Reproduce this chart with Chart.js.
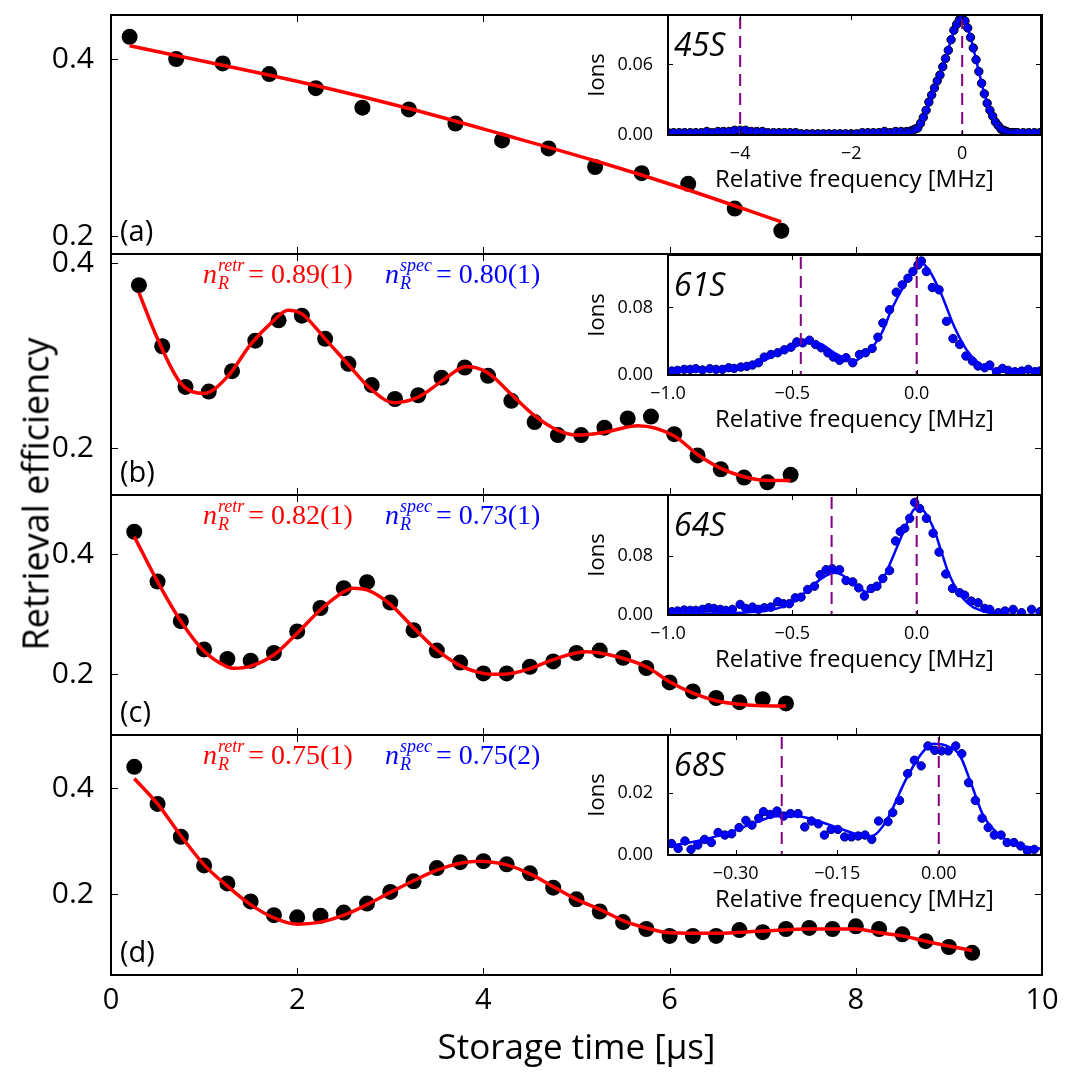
<!DOCTYPE html>
<html>
<head>
<meta charset="utf-8">
<script src="https://cdn.jsdelivr.net/npm/chart.js@4.4.1/dist/chart.umd.min.js"></script>
<style>
  body { margin: 0; background: #fff; }
  #fig { position: relative; width: 1075px; height: 1080px; overflow: hidden; background: #fff; }
  #fig canvas { position: absolute; }
  #ylab {
    position: absolute; left: 35px; top: 494px;
    transform: translate(-50%, -50%) rotate(-90deg);
    font: 36px "Open Sans", sans-serif; white-space: nowrap; color: #000;
  }
</style>
</head>
<body>
<div id="fig">
  <canvas id="mainA"></canvas>
  <canvas id="mainB"></canvas>
  <canvas id="mainC"></canvas>
  <canvas id="mainD"></canvas>
  <canvas id="insetA"></canvas>
  <canvas id="insetB"></canvas>
  <canvas id="insetC"></canvas>
  <canvas id="insetD"></canvas>
  <div id="ylab">Retrieval efficiency</div>
</div>
<script>
// ---- tick labels ----
const timeTicks = [0, 2, 4, 6, 8, 10];
const effTicks = [0.2, 0.4];
const freqTicksA = [-4, -2, 0];
const freqTicksBC = [-1.0, -0.5, 0.0];
const freqTicksD = [-0.30, -0.15, 0.00];
const ionTicksA = [0, 0.06];
const ionTicksBC = [0, 0.08];
const ionTicksD = [0, 0.02];

// ---- storage time data (us) and retrieval efficiency ----
const timeA = [0.2, 0.7, 1.2, 1.7, 2.2, 2.7, 3.2, 3.7, 4.2, 4.7, 5.2, 5.7, 6.2, 6.7, 7.2];
const effA = [0.425, 0.400, 0.395, 0.383, 0.367, 0.345, 0.343, 0.327, 0.308, 0.299, 0.278, 0.271, 0.259, 0.231, 0.206];
const fitTimeA = [0.2, 1.2, 2.2, 3.2, 4.2, 5.2, 6.2, 7.2];
const fitEffA = [0.415, 0.393, 0.370, 0.344, 0.315, 0.285, 0.252, 0.216];

const timeB = [0.3, 0.55, 0.8, 1.05, 1.3, 1.55, 1.8, 2.05, 2.3, 2.55, 2.8, 3.05, 3.3, 3.55, 3.8, 4.05, 4.3, 4.55, 4.8, 5.05, 5.3, 5.55, 5.8, 6.05, 6.3, 6.55, 6.8, 7.05, 7.3];
const effB = [0.376, 0.310, 0.266, 0.261, 0.283, 0.316, 0.338, 0.343, 0.318, 0.291, 0.268, 0.253, 0.257, 0.276, 0.287, 0.278, 0.251, 0.228, 0.214, 0.214, 0.222, 0.232, 0.234, 0.215, 0.192, 0.177, 0.168, 0.163, 0.171];
const fitTimeB = [0.3, 0.5, 0.75, 1.0, 1.25, 1.5, 1.75, 1.9, 2.05, 2.3, 2.55, 2.8, 3.04, 3.3, 3.55, 3.82, 4.05, 4.3, 4.55, 4.8, 5.0, 5.3, 5.66, 6.05, 6.3, 6.55, 6.8, 7.05, 7.3];
const fitEffB = [0.368, 0.318, 0.270, 0.259, 0.277, 0.312, 0.338, 0.349, 0.345, 0.318, 0.290, 0.263, 0.249, 0.255, 0.272, 0.288, 0.281, 0.258, 0.235, 0.219, 0.214, 0.217, 0.224, 0.213, 0.193, 0.178, 0.169, 0.165, 0.165];

const timeC = [0.25, 0.5, 0.75, 1.0, 1.25, 1.5, 1.75, 2.0, 2.25, 2.5, 2.75, 3.0, 3.25, 3.5, 3.75, 4.0, 4.25, 4.5, 4.75, 5.0, 5.25, 5.5, 5.75, 6.0, 6.25, 6.5, 6.75, 7.0, 7.25];
const effC = [0.437, 0.354, 0.288, 0.241, 0.225, 0.222, 0.235, 0.271, 0.310, 0.343, 0.353, 0.319, 0.273, 0.239, 0.219, 0.201, 0.201, 0.212, 0.221, 0.235, 0.239, 0.227, 0.210, 0.186, 0.171, 0.160, 0.153, 0.158, 0.151];
const fitTimeC = [0.25, 0.5, 0.75, 1.0, 1.25, 1.32, 1.5, 1.75, 2.0, 2.25, 2.5, 2.6, 2.75, 3.0, 3.25, 3.5, 3.75, 4.0, 4.11, 4.25, 4.5, 4.75, 5.1, 5.35, 5.75, 6.0, 6.25, 6.5, 6.75, 7.0, 7.25];
const fitEffC = [0.429, 0.354, 0.288, 0.238, 0.212, 0.2095, 0.213, 0.232, 0.268, 0.307, 0.337, 0.343, 0.340, 0.316, 0.277, 0.240, 0.214, 0.201, 0.1995, 0.200, 0.209, 0.224, 0.237, 0.232, 0.212, 0.187, 0.168, 0.1555, 0.1495, 0.147, 0.1467];

const timeD = [0.25, 0.5, 0.75, 1.0, 1.25, 1.5, 1.75, 2.0, 2.25, 2.5, 2.75, 3.0, 3.25, 3.5, 3.75, 4.0, 4.25, 4.5, 4.75, 5.0, 5.25, 5.5, 5.75, 6.0, 6.25, 6.5, 6.75, 7.0, 7.25, 7.5, 7.75, 8.0, 8.25, 8.5, 8.75, 9.0, 9.25];
const effD = [0.440, 0.370, 0.308, 0.254, 0.220, 0.186, 0.160, 0.156, 0.159, 0.165, 0.182, 0.204, 0.224, 0.249, 0.260, 0.262, 0.256, 0.239, 0.212, 0.190, 0.167, 0.147, 0.134, 0.121, 0.121, 0.121, 0.132, 0.128, 0.134, 0.136, 0.134, 0.139, 0.134, 0.124, 0.111, 0.100, 0.089];
const fitTimeD = [0.25, 0.5, 0.75, 1.0, 1.25, 1.5, 1.75, 2.0, 2.25, 2.5, 2.75, 3.0, 3.25, 3.5, 3.75, 3.95, 4.25, 4.5, 4.75, 5.0, 5.25, 5.5, 5.75, 6.0, 6.5, 7.0, 7.5, 8.0, 8.25, 8.5, 8.75, 9.25];
const fitEffD = [0.418, 0.370, 0.310, 0.255, 0.215, 0.180, 0.155, 0.143, 0.147, 0.160, 0.180, 0.203, 0.225, 0.245, 0.258, 0.262, 0.255, 0.238, 0.214, 0.190, 0.171, 0.150, 0.136, 0.127, 0.126, 0.130, 0.134, 0.134, 0.127, 0.121, 0.111, 0.093];

// ---- spectra (MHz, ions) ----
const freqA = [-5.3, -5.2, -5.1, -5.0, -4.9, -4.8, -4.7, -4.6, -4.5, -4.4, -4.3, -4.2, -4.1, -4.0, -3.9, -3.8, -3.7, -3.6, -3.5, -3.4, -3.3, -3.2, -3.1, -3.0,
  -2.9, -2.8, -2.7, -2.6, -2.5, -2.4, -2.3, -2.2, -2.1, -2.0, -1.9, -1.8, -1.7, -1.6, -1.5, -1.4, -1.3, -1.2, -1.1,
  -1.0, -0.95, -0.9, -0.85, -0.8, -0.75, -0.7, -0.65, -0.6, -0.55, -0.5, -0.45, -0.4, -0.35, -0.3, -0.25, -0.2, -0.15, -0.1, -0.05,
  0, 0.05, 0.1, 0.15, 0.2, 0.25, 0.3, 0.35, 0.4, 0.45, 0.5, 0.55, 0.6, 0.65, 0.7, 0.75, 0.8, 0.85, 0.9, 0.95, 1.0,
  1.1, 1.2, 1.3, 1.4];
const ionsA = [0.002, 0.002, 0.002, 0.002, 0.002, 0.002, 0.002, 0.003, 0.002, 0.003, 0.003, 0.003, 0.004, 0.004, 0.004, 0.003, 0.003, 0.003, 0.002, 0.002, 0.002, 0.002, 0.002, 0.002,
  0.001, 0.001, 0.001, 0.001, 0.001, 0.001, 0.001, 0.001, 0.001, 0.001, 0.001, 0.002, 0.002, 0.002, 0.002, 0.003, 0.002, 0.003, 0.003,
  0.003, 0.003, 0.004, 0.005, 0.006, 0.010, 0.015, 0.021, 0.028, 0.034, 0.040, 0.046, 0.051, 0.058, 0.065, 0.072, 0.081, 0.089, 0.094, 0.098,
  0.099, 0.097, 0.091, 0.083, 0.074, 0.064, 0.054, 0.044, 0.035, 0.027, 0.021, 0.016, 0.011, 0.008, 0.005, 0.004, 0.003, 0.002, 0.002, 0.002, 0.002,
  0.002, 0.002, 0.002, 0.002];
const fitFreqA = [-5.3, -4, -2, -1, -0.9, -0.8, -0.7, -0.6, -0.5, -0.4, -0.3, -0.2, -0.1, 0, 0.1, 0.2, 0.3, 0.4, 0.5, 0.6, 0.7, 0.8, 1.0, 1.4];
const fitIonsA = [0.002, 0.003, 0.001, 0.002, 0.003, 0.005, 0.013, 0.026, 0.039, 0.051, 0.065, 0.081, 0.094, 0.099, 0.091, 0.074, 0.054, 0.035, 0.021, 0.011, 0.005, 0.003, 0.002, 0.002];

const freqB = [-0.985, -0.962, -0.935, -0.911, -0.888, -0.861, -0.832, -0.807, -0.781, -0.756, -0.734, -0.707, -0.683, -0.660, -0.636, -0.613, -0.586, -0.559, -0.532, -0.505,
  -0.482, -0.458, -0.431, -0.407, -0.384, -0.357, -0.335, -0.310, -0.284, -0.257, -0.230, -0.206, -0.179, -0.156, -0.136, -0.109, -0.082, -0.058, -0.035, -0.015,
  0.005, 0.019, 0.039, 0.063, 0.090, 0.120, 0.146, 0.173, 0.198, 0.224, 0.247, 0.274, 0.294, 0.321, 0.345, 0.368, 0.395, 0.422, 0.449, 0.476, 0.496];
const ionsB = [0.0047, 0.0055, 0.0067, 0.0067, 0.0075, 0.0059, 0.0075, 0.0067, 0.0067, 0.0086, 0.0078, 0.0094, 0.0102, 0.0118, 0.0145, 0.0212, 0.0243, 0.0263, 0.0298, 0.0329,
  0.0392, 0.0380, 0.0412, 0.0361, 0.0322, 0.0263, 0.0212, 0.0173, 0.0204, 0.0145, 0.0243, 0.0263, 0.0314, 0.0447, 0.0616, 0.0773, 0.0980, 0.1067, 0.1145, 0.1224,
  0.1302, 0.1349, 0.1224, 0.1035, 0.1008, 0.0635, 0.0431, 0.0361, 0.0224, 0.0165, 0.0106, 0.0086, 0.0118, 0.0039, 0.0078, 0.0055, 0.0039, 0.0047, 0.0067, 0.0039, 0.0047];
const fitFreqB = [-1.0, -0.8, -0.7, -0.65, -0.6, -0.55, -0.5, -0.45, -0.42, -0.38, -0.33, -0.28, -0.25, -0.22, -0.18, -0.14, -0.1, -0.05, 0, 0.02, 0.05, 0.1, 0.15, 0.2, 0.25, 0.3, 0.4, 0.5];
const fitIonsB = [0.004, 0.006, 0.009, 0.013, 0.019, 0.026, 0.032, 0.038, 0.040, 0.036, 0.026, 0.019, 0.017, 0.022, 0.032, 0.050, 0.078, 0.106, 0.128, 0.132, 0.124, 0.095, 0.058, 0.030, 0.014, 0.007, 0.004, 0.004];

const freqC = [-0.985, -0.962, -0.935, -0.911, -0.888, -0.861, -0.837, -0.815, -0.790, -0.768, -0.741, -0.710, -0.687, -0.660, -0.636, -0.613, -0.586, -0.559, -0.536, -0.512,
  -0.488, -0.465, -0.438, -0.411, -0.388, -0.364, -0.340, -0.310, -0.284, -0.257, -0.233, -0.210, -0.183, -0.160, -0.136, -0.109, -0.085, -0.066, -0.048, -0.028,
  -0.008, 0.012, 0.039, 0.066, 0.090, 0.117, 0.144, 0.173, 0.193, 0.220, 0.247, 0.274, 0.294, 0.328, 0.355, 0.388, 0.422, 0.462, 0.496];
const ionsC = [0.0045, 0.0054, 0.0067, 0.0063, 0.0063, 0.0076, 0.0098, 0.0089, 0.0076, 0.0063, 0.0076, 0.0143, 0.0089, 0.0107, 0.0076, 0.0098, 0.0107, 0.0179, 0.0152, 0.0152,
  0.0232, 0.0241, 0.0344, 0.0389, 0.0545, 0.0612, 0.0626, 0.0612, 0.0465, 0.0447, 0.0366, 0.0255, 0.0358, 0.0389, 0.0492, 0.0599, 0.0999, 0.1126, 0.1171, 0.1305,
  0.1519, 0.1439, 0.1305, 0.1104, 0.0849, 0.0554, 0.0358, 0.0300, 0.0268, 0.0188, 0.0165, 0.0089, 0.0076, 0.0031, 0.0054, 0.0076, 0.0031, 0.0076, 0.0045];
const fitFreqC = [-1.0, -0.8, -0.7, -0.6, -0.55, -0.5, -0.45, -0.4, -0.36, -0.33, -0.3, -0.26, -0.22, -0.2, -0.17, -0.13, -0.1, -0.05, -0.02, 0.0, 0.03, 0.07, 0.1, 0.13, 0.17, 0.22, 0.28, 0.35, 0.5];
const fitIonsC = [0.002, 0.002, 0.003, 0.006, 0.010, 0.017, 0.030, 0.045, 0.054, 0.057, 0.054, 0.044, 0.034, 0.031, 0.035, 0.052, 0.075, 0.115, 0.138, 0.145, 0.140, 0.115, 0.085, 0.055, 0.030, 0.012, 0.004, 0.001, 0.0];

const freqD = [-0.395, -0.385, -0.375, -0.366, -0.356, -0.346, -0.336, -0.326, -0.316, -0.306, -0.295, -0.285, -0.276, -0.266, -0.259, -0.249, -0.239, -0.229, -0.219, -0.208,
  -0.198, -0.188, -0.178, -0.169, -0.159, -0.149, -0.139, -0.129, -0.119, -0.109, -0.099, -0.089, -0.075, -0.068, -0.058, -0.046, -0.036, -0.026, -0.016, -0.006,
  0.004, 0.014, 0.025, 0.034, 0.044, 0.054, 0.064, 0.073, 0.082, 0.092, 0.101, 0.111, 0.121, 0.131, 0.141];
const ionsD = [0.0037, 0.0021, 0.0045, 0.0018, 0.0032, 0.0050, 0.0040, 0.0072, 0.0064, 0.0068, 0.0088, 0.0111, 0.0096, 0.0118, 0.0139, 0.0130, 0.0141, 0.0125, 0.0133, 0.0133,
  0.0090, 0.0109, 0.0100, 0.0064, 0.0082, 0.0082, 0.0058, 0.0058, 0.0061, 0.0064, 0.0050, 0.0109, 0.0107, 0.0136, 0.0175, 0.0261, 0.0304, 0.0286, 0.0350, 0.0336,
  0.0334, 0.0334, 0.0350, 0.0325, 0.0232, 0.0175, 0.0118, 0.0088, 0.0064, 0.0064, 0.0040, 0.0040, 0.0029, 0.0013, 0.0018];
const fitFreqD = [-0.40, -0.35, -0.30, -0.27, -0.24, -0.21, -0.18, -0.15, -0.12, -0.10, -0.079, -0.049, -0.028, -0.008, 0.012, 0.031, 0.046, 0.065, 0.081, 0.106, 0.15];
const fitIonsD = [0.0028, 0.0048, 0.0080, 0.0105, 0.0124, 0.0124, 0.0110, 0.0088, 0.0066, 0.0060, 0.0104, 0.0240, 0.0318, 0.0357, 0.0350, 0.0320, 0.0240, 0.0130, 0.0082, 0.0040, 0.0020];

// resonance markers (MHz)
const markersA = [-4, 0];
const markersB = [-0.466, 0];
const markersC = [-0.342, 0];
const markersD = [-0.232, 0];

Chart.defaults.font.family = "'Open Sans', sans-serif";
Chart.defaults.color = '#000';

const pairs = (xs, ys) => xs.map((x, i) => ({ x: x, y: ys[i] }));
const minus = s => s.replace('-', '\u2212');

function drawN(ctx, x, y, sup, val, color) {
  ctx.fillStyle = color;
  ctx.textBaseline = 'alphabetic';
  ctx.textAlign = 'left';
  ctx.font = 'italic 28px "Liberation Serif"';
  ctx.fillText('n', x, y);
  const w = ctx.measureText('n').width;
  ctx.font = 'italic 18px "Liberation Serif"';
  ctx.fillText(sup, x + w + 1, y - 12);
  const ws = ctx.measureText(sup).width;
  ctx.fillText('R', x + w + 1, y + 6);
  const wr = ctx.measureText('R').width;
  ctx.font = '28px "Liberation Serif"';
  ctx.fillText('= ' + val, x + w + Math.max(ws, wr) + 5, y);
}

// frame, inward ticks, dashed markers and labels
const decor = {
  id: 'decor',
  beforeDraw(chart, args, o) {
    if (!o.fill) return;
    const a = chart.chartArea;
    chart.ctx.save();
    chart.ctx.fillStyle = '#fff';
    chart.ctx.fillRect(a.left, a.top, a.width, a.height);
    chart.ctx.restore();
  },
  afterDatasetsDraw(chart, args, o) {
    const { ctx, chartArea: a } = chart;
    const x = chart.scales.x, y = chart.scales.y;
    ctx.save();
    ctx.strokeStyle = '#800080';
    ctx.lineWidth = 2;
    ctx.setLineDash([12, 7]);
    (o.markers || []).forEach(f => {
      const px = x.getPixelForValue(f);
      ctx.beginPath();
      ctx.moveTo(px, a.top + 2);
      ctx.lineTo(px, a.bottom);
      ctx.stroke();
    });
    ctx.setLineDash([]);

    const len = o.tick || 6;
    ctx.strokeStyle = '#000';
    ctx.lineWidth = 1;
    ctx.beginPath();
    x.ticks.forEach(t => {
      const px = Math.round(x.getPixelForValue(t.value)) + 0.5;
      ctx.moveTo(px, a.bottom); ctx.lineTo(px, a.bottom - len);
      ctx.moveTo(px, a.top); ctx.lineTo(px, a.top + len);
    });
    y.ticks.forEach(t => {
      const py = Math.round(y.getPixelForValue(t.value)) + 0.5;
      ctx.moveTo(a.left, py); ctx.lineTo(a.left + len, py);
      ctx.moveTo(a.right, py); ctx.lineTo(a.right - len, py);
    });
    ctx.stroke();
    ctx.lineWidth = 2;
    ctx.strokeRect(a.left, a.top, a.width, a.height);

    ctx.fillStyle = '#000';
    ctx.textAlign = 'left';
    if (o.name) {
      ctx.font = 'italic 32px "Open Sans"';
      ctx.textBaseline = 'alphabetic';
      ctx.fillText(o.name, a.left + 6, a.top + 41);
    }
    if (o.panel) {
      ctx.font = '29px "Open Sans"';
      ctx.textBaseline = 'middle';
      ctx.fillText(o.panel, a.left + 9, a.bottom - 21);
    }
    if (o.retr) {
      drawN(ctx, a.left + 92, a.top + 29, 'retr', o.retr, '#ff0000');
      drawN(ctx, a.left + 274, a.top + 29, 'spec', o.spec, '#0000ff');
    }
    ctx.restore();
  }
};

function place(id, left, top, w, h) {
  const c = document.getElementById(id);
  c.width = w; c.height = h;
  c.style.left = left + 'px'; c.style.top = top + 'px';
  c.style.width = w + 'px'; c.style.height = h + 'px';
  return c;
}

function fixTicks(values) {
  return s => { s.ticks = values.map(v => ({ value: v })); };
}

function mainChart(id, top, height, p) {
  const showX = !!p.showX;
  new Chart(place(id, 0, top, 1075, height), {
    type: 'scatter',
    data: {
      datasets: [
        {
          data: pairs(p.fitT, p.fitV),
          showLine: true,
          borderColor: '#ff0000',
          borderWidth: 3.5,
          pointRadius: 0,
          cubicInterpolationMode: 'monotone'
        },
        {
          data: pairs(p.t, p.v),
          backgroundColor: '#000',
          borderColor: '#000',
          pointRadius: 8,
          borderWidth: 0
        }
      ]
    },
    options: {
      responsive: false,
      devicePixelRatio: 1,
      animation: false,
      events: [],
      layout: { padding: { top: 10, right: 33, bottom: showX ? 0 : 10, left: 0 } },
      plugins: {
        legend: { display: false },
        tooltip: { enabled: false },
        decor: { panel: p.panel, retr: p.retr, spec: p.spec, tick: 7 }
      },
      scales: {
        x: {
          type: 'linear', min: 0, max: 10,
          grid: { display: false }, border: { display: false },
          afterBuildTicks: fixTicks(timeTicks),
          afterFit: s => { s.height = showX ? 105 : 0; s.paddingLeft = 0; s.paddingRight = 0; },
          ticks: { display: showX, font: { size: 29 }, padding: 0, maxRotation: 0, callback: v => String(v) },
          title: { display: showX, text: 'Storage time [\u00b5s]', font: { size: 35 }, padding: { top: 0, bottom: 10 } }
        },
        y: {
          type: 'linear', min: p.yMin, max: p.yMax,
          grid: { display: false }, border: { display: false },
          afterBuildTicks: fixTicks(effTicks),
          afterFit: s => { s.width = 111; s.paddingTop = 0; s.paddingBottom = 0; },
          ticks: { font: { size: 30 }, padding: 9, callback: v => v.toFixed(1) }
        }
      }
    },
    plugins: [decor]
  });
}

function insetChart(id, top, p) {
  new Chart(place(id, 568, top, 493, 195), {
    type: 'scatter',
    data: {
      datasets: [
        {
          data: pairs(p.fitF, p.fitI),
          showLine: true,
          borderColor: '#0000ff',
          borderWidth: 2.5,
          pointRadius: 0,
          cubicInterpolationMode: 'monotone'
        },
        {
          data: pairs(p.f, p.i),
          backgroundColor: '#0000ff',
          borderColor: p.edge,
          borderWidth: 1,
          pointRadius: 4.2
        }
      ]
    },
    options: {
      responsive: false,
      devicePixelRatio: 1,
      animation: false,
      events: [],
      layout: { padding: { top: 10, right: 20, bottom: 0, left: 0 } },
      plugins: {
        legend: { display: false },
        tooltip: { enabled: false },
        decor: { fill: true, name: p.name, markers: p.markers, tick: 5 }
      },
      scales: {
        x: {
          type: 'linear', min: p.xMin, max: p.xMax,
          grid: { display: false }, border: { display: false },
          afterBuildTicks: fixTicks(p.xTicks),
          afterFit: s => { s.height = 65; s.paddingLeft = 0; s.paddingRight = 0; },
          ticks: { font: { size: 18 }, padding: 0, maxRotation: 0, callback: v => minus(v.toFixed(p.dec)) },
          title: { display: true, text: 'Relative frequency [MHz]', font: { size: 24 }, padding: { top: 0, bottom: 5 } }
        },
        y: {
          type: 'linear', min: 0, max: p.yMax,
          grid: { display: false }, border: { display: false },
          afterBuildTicks: fixTicks(p.yTicks),
          afterFit: s => { s.width = 100; s.paddingTop = 0; s.paddingBottom = 0; },
          ticks: { font: { size: 18 }, padding: 7, callback: v => v.toFixed(2) },
          title: { display: true, text: 'Ions', font: { size: 22 }, padding: { top: 17, bottom: 0 } }
        }
      }
    },
    plugins: [decor]
  });
}

mainChart('mainA', 5, 259, { t: timeA, v: effA, fitT: fitTimeA, fitV: fitEffA, yMin: 0.1797, yMax: 0.4497, panel: '(a)' });
mainChart('mainB', 244, 261, { t: timeB, v: effB, fitT: fitTimeB, fitV: fitEffB, yMin: 0.1492, yMax: 0.4097, panel: '(b)', retr: '0.89(1)', spec: '0.80(1)' });
mainChart('mainC', 485, 260, { t: timeC, v: effC, fitT: fitTimeC, fitV: fitEffC, yMin: 0.0983, yMax: 0.4983, panel: '(c)', retr: '0.82(1)', spec: '0.73(1)' });
mainChart('mainD', 725, 355, { t: timeD, v: effD, fitT: fitTimeD, fitV: fitEffD, yMin: 0.0472, yMax: 0.5, panel: '(d)', retr: '0.75(1)', spec: '0.75(2)', showX: true });

insetChart('insetA', 5, { f: freqA, i: ionsA, fitF: fitFreqA, fitI: fitIonsA, xMin: -5.3, xMax: 1.42, yMax: 0.102, xTicks: freqTicksA, yTicks: ionTicksA, dec: 0, name: '45S', markers: markersA, edge: '#000' });
insetChart('insetB', 245, { f: freqB, i: ionsB, fitF: fitFreqB, fitI: fitIonsB, xMin: -1.0, xMax: 0.5, yMax: 0.142, xTicks: freqTicksBC, yTicks: ionTicksBC, dec: 1, name: '61S', markers: markersB, edge: '#00007f' });
insetChart('insetC', 485, { f: freqC, i: ionsC, fitF: fitFreqC, fitI: fitIonsC, xMin: -1.0, xMax: 0.5, yMax: 0.162, xTicks: freqTicksBC, yTicks: ionTicksBC, dec: 1, name: '64S', markers: markersC, edge: '#00007f' });
insetChart('insetD', 725, { f: freqD, i: ionsD, fitF: fitFreqD, fitI: fitIonsD, xMin: -0.40, xMax: 0.151, yMax: 0.0385, xTicks: freqTicksD, yTicks: ionTicksD, dec: 2, name: '68S', markers: markersD, edge: '#00007f' });
</script>
</body>
</html>
